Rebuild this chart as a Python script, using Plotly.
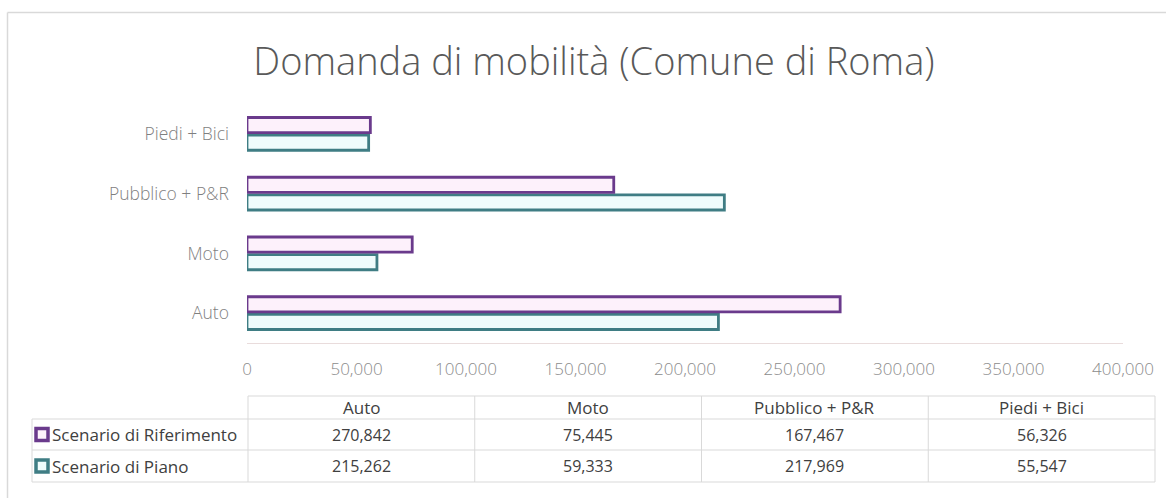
import plotly.graph_objects as go

# Data
categories = ["Auto", "Moto", "Pubblico + P&R", "Piedi + Bici"]
series_names = ["Scenario di Riferimento", "Scenario di Piano"]
riferimento = [270842, 75445, 167467, 56326]
piano = [215262, 59333, 217969, 55547]
x_ticks = [0, 50000, 100000, 150000, 200000, 250000, 300000, 350000, 400000]

W, H = 1166, 498
PURPLE = "#6a3a8c"
PURPLE_FILL = "#fdf1fb"
TEAL = "#3f7d84"
TEAL_FILL = "#effcfc"
GRID = "#d9d9d9"
FONT = "Open Sans"


def px(x):
    return x / W


def py(y):
    return 1 - y / H


fig = go.Figure()

# Piano first so that Riferimento sits above it inside each group
fig.add_trace(go.Bar(
    y=categories, x=piano, orientation="h", name=series_names[1],
    marker=dict(color=TEAL_FILL, line=dict(color=TEAL, width=2.8)),
    hoverinfo="x+y",
))
fig.add_trace(go.Bar(
    y=categories, x=riferimento, orientation="h", name=series_names[0],
    marker=dict(color=PURPLE_FILL, line=dict(color=PURPLE, width=2.8)),
    hoverinfo="x+y",
))

x0, x1 = 247, 1123
fig.update_layout(
    width=W, height=H,
    margin=dict(l=0, r=0, t=0, b=0, autoexpand=False),
    paper_bgcolor="white", plot_bgcolor="white",
    showlegend=False,
    barmode="group", bargap=0.41, bargroupgap=0.14,
    font=dict(family=FONT, color="#7f7f7f", size=14),
    xaxis=dict(
        domain=[px(x0), px(x1)], range=[0, 400000], automargin=False,
        tickvals=x_ticks, ticktext=[f"{v:,}" for v in x_ticks],
        showgrid=False, zeroline=False,
        showline=True, linecolor="#e9dcdc", linewidth=1,
        ticks="", ticklabelstandoff=11,
        tickfont=dict(family=FONT, size=17, color="#8c8c8c", weight=300),
    ),
    yaxis=dict(
        domain=[py(343), py(104)], automargin=False,
        categoryorder="array", categoryarray=categories,
        showgrid=False, zeroline=False, showline=False,
        ticks="", ticklabelstandoff=17,
        tickfont=dict(family=FONT, size=17.5, color="#7f7f7f", weight=300),
    ),
    title=dict(
        text="Domanda di mobilità (Comune di Roma)",
        x=px(594), xanchor="center", y=py(62), yanchor="middle",
        font=dict(family=FONT, size=38, color="#595959", weight=300),
    ),
)

shapes = []
annotations = []

# Chart frame (top and left edges)
shapes.append(dict(type="line", xref="paper", yref="paper",
                   x0=px(7.5), x1=1, y0=py(12.5), y1=py(12.5),
                   line=dict(color=GRID, width=1.5)))
shapes.append(dict(type="line", xref="paper", yref="paper",
                   x0=px(7.5), x1=px(7.5), y0=py(12.5), y1=0,
                   line=dict(color=GRID, width=1.5)))

# Data table under the axis
col_edges = [248, 474.75, 701.5, 928.25, 1155]
row_edges = [396, 419, 450, 482]
tbl_left = 32
line_style = dict(color=GRID, width=1)

# Horizontal rules
shapes.append(dict(type="line", xref="paper", yref="paper",
                   x0=px(col_edges[0]), x1=px(col_edges[-1]),
                   y0=py(row_edges[0]), y1=py(row_edges[0]), line=line_style))
for ry in row_edges[1:]:
    shapes.append(dict(type="line", xref="paper", yref="paper",
                       x0=px(tbl_left), x1=px(col_edges[-1]),
                       y0=py(ry), y1=py(ry), line=line_style))
# Vertical rules
shapes.append(dict(type="line", xref="paper", yref="paper",
                   x0=px(tbl_left), x1=px(tbl_left),
                   y0=py(row_edges[1]), y1=py(row_edges[-1]), line=line_style))
for cx in col_edges:
    shapes.append(dict(type="line", xref="paper", yref="paper",
                       x0=px(cx), x1=px(cx),
                       y0=py(row_edges[0]), y1=py(row_edges[-1]), line=line_style))

col_centers = [(a + b) / 2 for a, b in zip(col_edges[:-1], col_edges[1:])]
row_centers = [(a + b) / 2 for a, b in zip(row_edges[:-1], row_edges[1:])]
header_font = dict(family=FONT, size=17, color="#404040")
name_font = dict(family=FONT, size=17, color="#404040")
value_font = dict(family=FONT, size=16, color="#404040")

for cx, cat in zip(col_centers, categories):
    annotations.append(dict(xref="paper", yref="paper", x=px(cx), y=py(row_centers[0]),
                            text=cat, showarrow=False, xanchor="center", yanchor="middle",
                            font=header_font))

rows = [(series_names[0], riferimento, PURPLE, PURPLE_FILL),
        (series_names[1], piano, TEAL, TEAL_FILL)]
for (name, vals, col, fill), cy in zip(rows, row_centers[1:]):
    # legend key
    shapes.append(dict(type="rect", xref="paper", yref="paper",
                       x0=px(36), x1=px(48), y0=py(cy + 6), y1=py(cy - 6),
                       fillcolor=fill, line=dict(color=col, width=3.5)))
    annotations.append(dict(xref="paper", yref="paper", x=px(50), y=py(cy),
                            text=name, showarrow=False, xanchor="left", yanchor="middle",
                            font=name_font))
    for cx, v in zip(col_centers, vals):
        annotations.append(dict(xref="paper", yref="paper", x=px(cx), y=py(cy),
                                text=f"{v:,}", showarrow=False,
                                xanchor="center", yanchor="middle", font=value_font))

fig.update_layout(shapes=shapes, annotations=annotations)
fig.write_html("out.html")
